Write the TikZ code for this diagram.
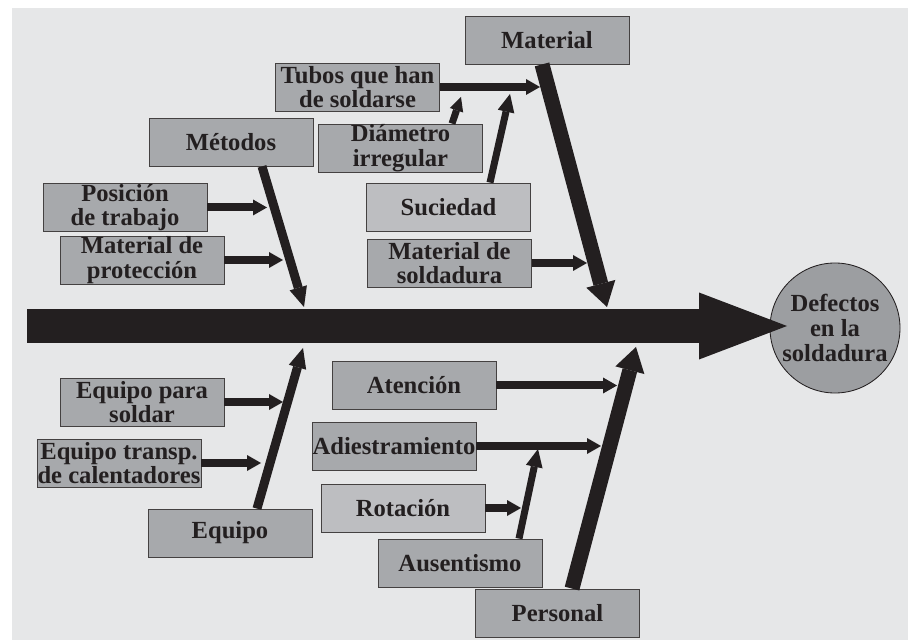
\documentclass[tikz,border=0pt]{standalone}
\usepackage{fontspec}
\setmainfont{Liberation Serif}
\usetikzlibrary{arrows.meta,calc}
\definecolor{bggray}{RGB}{230,231,232}
\definecolor{boxgray}{RGB}{167,169,172}
\definecolor{boxlight}{RGB}{189,190,193}
\definecolor{effgray}{RGB}{156,158,161}
\definecolor{inkdark}{RGB}{35,31,32}

\begin{document}
\begin{tikzpicture}[x=0.25mm, y=-0.25mm,
        box/.style={rectangle, draw=inkdark!85, line width=0.6pt, fill=boxgray, minimum width=41mm, minimum height=12mm, inner sep=0pt, align=center, text=inkdark, font=\bfseries\fontsize{17.5}{17.5}\selectfont},
        lightbox/.style={box, fill=boxlight},
        effect/.style={circle, draw=inkdark, line width=0.6pt, fill=effgray, minimum size=32.5mm, inner sep=0pt, align=center, text=inkdark, font=\bfseries\fontsize{17.5}{17.5}\selectfont},
        rib/.style={-{Triangle[length=3.5mm, width=4mm, line width=0pt]}, line width=2mm, inkdark},
        twig/.style={-{Triangle[length=4.5mm, width=4.25mm, line width=0pt]}, line width=1.75mm, inkdark},
        bone/.style={-{Triangle[length=5mm, width=4.5mm, line width=0pt]}, line width=2.25mm, inkdark},
        bigbone/.style={-{Triangle[length=6mm, width=7.5mm, line width=0pt]}, line width=3.75mm, inkdark},
        spine/.style={-{Triangle[length=22mm, width=16.75mm, line width=0pt]}, line width=8.5mm, inkdark}
      ]
        \useasboundingbox (0,0) rectangle (908,640);
        \fill[bggray] (12,8) rectangle (908,640);

        % causes above the spine
        \node[box] at (547,40) (mat) {Material};
        \node[box] at (357.5,87) (tub) {Tubos que han\\de soldarse};
        \node[box] at (231,142) (met) {Métodos};
        \node[box] at (400.5,148) (dia) {Diámetro\\irregular};
        \node[box] at (125,207.5) (pos) {Posición\\de trabajo};
        \node[lightbox] at (448.5,207) (suc) {Suciedad};
        \node[box] at (142,260) (pro) {Material de\\protección};
        \node[box] at (449.5,263) (sol) {Material de\\soldadura};

        % effect
        \node[effect] at (835,328) (eff) {Defectos\\en la\\soldadura};

        % causes below the spine
        \node[box] at (142,402) (eps) {Equipo para\\soldar};
        \node[box] at (119,463) (etr) {Equipo transp.\\de calentadores};
        \node[box] at (230,533) (equ) {Equipo};
        \node[box] at (414,385.5) (ate) {Atención};
        \node[box] at (394,446) (adi) {Adiestramiento};
        \node[lightbox] at (403,508) (rot) {Rotación};
        \node[box] at (460,563) (aus) {Ausentismo};
        \node[box] at (557.5,613) (per) {Personal};

        % arrow ends
        \coordinate (spineTail) at (27,326);
        \coordinate (metTip) at (304,307);
        \coordinate (matTip) at (607,307);
        \coordinate (equTip) at (303,348);
        \coordinate (perTip) at (636,347);
        \coordinate (posTip) at (267,207.5);
        \coordinate (proTip) at (283,260);
        \coordinate (tubTip) at (540,87);
        \coordinate (diaTip) at (461,97);
        \coordinate (sucTip) at (510,94);
        \coordinate (solTip) at (587,263);
        \coordinate (epsTip) at (283,402);
        \coordinate (etrTip) at (261,463);
        \coordinate (ateTip) at (617,385.5);
        \coordinate (adiTip) at (601,446);
        \coordinate (rotTip) at (521,508);
        \coordinate (ausTip) at (538,449);
        \coordinate (spineTip) at (787,326);

        \draw[rib] (pos.east) -- (posTip);
        \draw[rib] (pro.east) -- (proTip);
        \draw[rib] (tub.east) -- (tubTip);
        \draw[twig, -{Triangle[length=3.5mm, width=3.5mm, line width=0pt]}] ($(dia.north)+(51.5,0)$) -- (diaTip);
        \draw[twig] ($(suc.north)+(41.5,0)$) -- (sucTip);
        \draw[rib] (sol.east) -- (solTip);
        \draw[rib] (eps.east) -- (epsTip);
        \draw[rib] (etr.east) -- (etrTip);
        \draw[rib] (ate.east) -- (ateTip);
        \draw[rib] (adi.east) -- (adiTip);
        \draw[rib] (rot.east) -- (rotTip);
        \draw[twig] ($(aus.north)+(59,0)$) -- (ausTip);

        \draw[bone] ($(met.south)+(31,0)$) -- (metTip);
        \draw[bigbone] ($(mat.south)+(-5,0)$) -- (matTip);
        \draw[bone] ($(equ.north)+(27,0)$) -- (equTip);
        \draw[bigbone] ($(per.north)+(14.5,0)$) -- (perTip);

        \draw[spine] (spineTail) -- (spineTip);
      \end{tikzpicture}
\end{document}
